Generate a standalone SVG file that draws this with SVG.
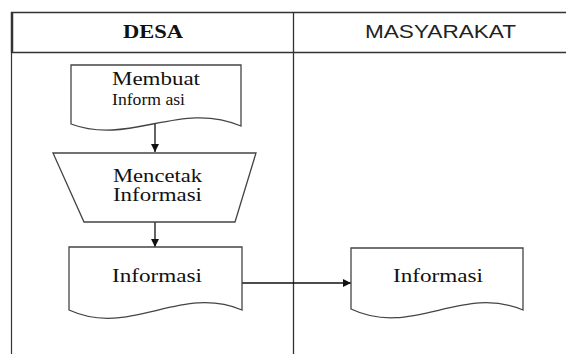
<svg xmlns="http://www.w3.org/2000/svg" width="566" height="354" viewBox="0 0 566 354">
<style>
.grid{stroke:#333;fill:none}
.shape{fill:#fff;stroke:#444;stroke-width:1.3}
.conn{stroke:#111;stroke-width:1.3;fill:none}
.serif{font-family:"Liberation Serif","Times New Roman",serif;fill:#111}
.sans{font-family:"Liberation Sans",Arial,sans-serif;fill:#222}
</style>
<defs>
<marker id="ah" viewBox="0 0 10 10" refX="10" refY="5" markerWidth="8" markerHeight="8" markerUnits="userSpaceOnUse" orient="auto">
<path d="M0,0 L10,5 L0,10 z" fill="#111"/>
</marker>
</defs>
<rect width="566" height="354" fill="#fff"/>
<g id="table">
<line class="grid" x1="11" y1="12.5" x2="566" y2="12.5" stroke-width="1.5"/>
<line class="grid" x1="11" y1="52.5" x2="566" y2="52.5" stroke-width="1.5"/>
<line class="grid" x1="12" y1="12" x2="12" y2="53" stroke-width="2.5" stroke="#000"/>
<line class="grid" x1="11.5" y1="53" x2="11.5" y2="354" stroke-width="1.2" stroke="#555"/>
<line class="grid" x1="293.5" y1="12" x2="293.5" y2="354" stroke-width="1.3"/>
<text class="serif" x="123" y="38" font-size="18" font-weight="bold" textLength="60" lengthAdjust="spacingAndGlyphs">DESA</text>
<text class="sans" x="365" y="38" font-size="18" textLength="151" lengthAdjust="spacingAndGlyphs">MASYARAKAT</text>
</g>
<g id="connectors">
<line class="conn" x1="155" y1="124" x2="155" y2="152" marker-end="url(#ah)"/>
<line class="conn" x1="155" y1="222" x2="155" y2="247" marker-end="url(#ah)"/>
<line class="conn" x1="242" y1="283" x2="351" y2="283" marker-end="url(#ah)"/>
</g>
<g id="membuat">
<path class="shape" d="M71,65 H241 V126 C180,100 130,146 71,124 Z"/>
<text class="serif" x="112" y="85" font-size="18.5" textLength="88" lengthAdjust="spacingAndGlyphs">Membuat</text>
<text class="serif" x="112" y="105" font-size="16" textLength="73" lengthAdjust="spacingAndGlyphs">Inform asi</text>
</g>
<g id="mencetak">
<path class="shape" d="M53,153 H256 L235,222 H84 Z"/>
<text class="serif" x="113" y="182" font-size="18.5" textLength="89" lengthAdjust="spacingAndGlyphs">Mencetak</text>
<text class="serif" x="113" y="201" font-size="18.5" textLength="89" lengthAdjust="spacingAndGlyphs">Informasi</text>
</g>
<g id="informasi-desa">
<path class="shape" d="M69,247 H242 V310 C180,284 130,338 69,310 Z"/>
<text class="serif" x="112" y="282" font-size="18.5" textLength="90" lengthAdjust="spacingAndGlyphs">Informasi</text>
</g>
<g id="informasi-masyarakat">
<path class="shape" d="M351,248 H523 V310 C462,284 412,338 351,309 Z"/>
<text class="serif" x="393" y="282" font-size="18.5" textLength="90" lengthAdjust="spacingAndGlyphs">Informasi</text>
</g>
</svg>
